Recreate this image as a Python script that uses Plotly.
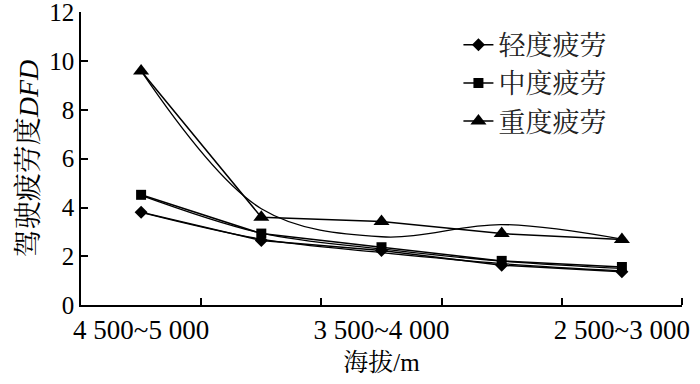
import plotly.graph_objects as go

categories = ["4 500~5 000", "4 000~4 500", "3 500~4 000", "3 000~3 500", "2 500~3 000"]
shown_labels = ["4 500~5 000", "3 500~4 000", "2 500~3 000"]

light = [3.81, 2.65, 2.24, 1.63, 1.36]
medium = [4.52, 2.93, 2.37, 1.81, 1.56]
heavy = [9.6, 3.6, 3.43, 2.93, 2.69]

light_curve = [3.8, 2.7, 2.15, 1.7, 1.4]
medium_curve = [4.5, 2.95, 2.3, 1.8, 1.5]
heavy_curve = [9.6, 3.95, 2.8, 3.3, 2.7]

names = ["轻度疲劳", "中度疲劳", "重度疲劳"]
symbols = ["diamond", "square", "triangle-up"]
sizes = [10, 10, 14]

x = list(range(1, len(categories) + 1))
tickpos = [x[categories.index(c)] for c in shown_labels]
bounds = [v + 0.5 for v in x]

fig = go.Figure()
for curve in [light_curve, medium_curve, heavy_curve]:
    fig.add_trace(go.Scatter(x=x, y=curve, mode="lines", showlegend=False,
                             line=dict(color="black", width=1.3, shape="spline", smoothing=1.0),
                             hoverinfo="skip"))
for vals, nm, sym, sz in zip([light, medium, heavy], names, symbols, sizes):
    fig.add_trace(go.Scatter(x=x, y=vals, mode="lines+markers", name=nm,
                             line=dict(color="black", width=1.5),
                             marker=dict(symbol=sym, size=sz, color="black")))

font_fam = "Liberation Serif, Times New Roman, Noto Serif CJK SC, Noto Sans CJK SC, serif"
fig.update_layout(
    width=700, height=384,
    margin=dict(l=81, r=18, t=12, b=79),
    plot_bgcolor="white", paper_bgcolor="white",
    font=dict(family=font_fam, size=24, color="black"),
    legend=dict(x=0.628, y=0.97, xanchor="left", yanchor="top",
                font=dict(size=27, color="#222"), bgcolor="rgba(0,0,0,0)",
                tracegroupgap=0, itemsizing="trace"),
    xaxis=dict(range=[0.5, 5.5], tickmode="array", tickvals=tickpos, ticktext=shown_labels,
               ticks="", showline=True, linecolor="black", linewidth=1.5, showgrid=False,
               zeroline=False, tickfont=dict(size=27, color="black"), automargin=False,
               ticklabeloverflow="allow",
               minor=dict(tickmode="array", tickvals=bounds, ticks="inside", ticklen=7,
                          tickcolor="black", tickwidth=1.5, showgrid=False),
               title=dict(text="海拔/m", font=dict(size=25, color="black"), standoff=9)),
    yaxis=dict(range=[0, 12.02], tickmode="array", tickvals=[0, 2, 4, 6, 8, 10, 12],
               ticks="inside", ticklen=7, tickwidth=1.5, tickcolor="black",
               showline=True, linecolor="black", linewidth=1.5, showgrid=False, zeroline=False,
               tickfont=dict(size=25, color="black"), automargin=False,
               ticklabeloverflow="allow",
               title=dict(text="驾驶疲劳度<i>DFD</i>", font=dict(size=28, color="black"), standoff=2)),
)
fig.write_html("out.html", config={"displayModeBar": False},
               post_script="document.body.style.margin='0';document.body.style.overflow='hidden';")
